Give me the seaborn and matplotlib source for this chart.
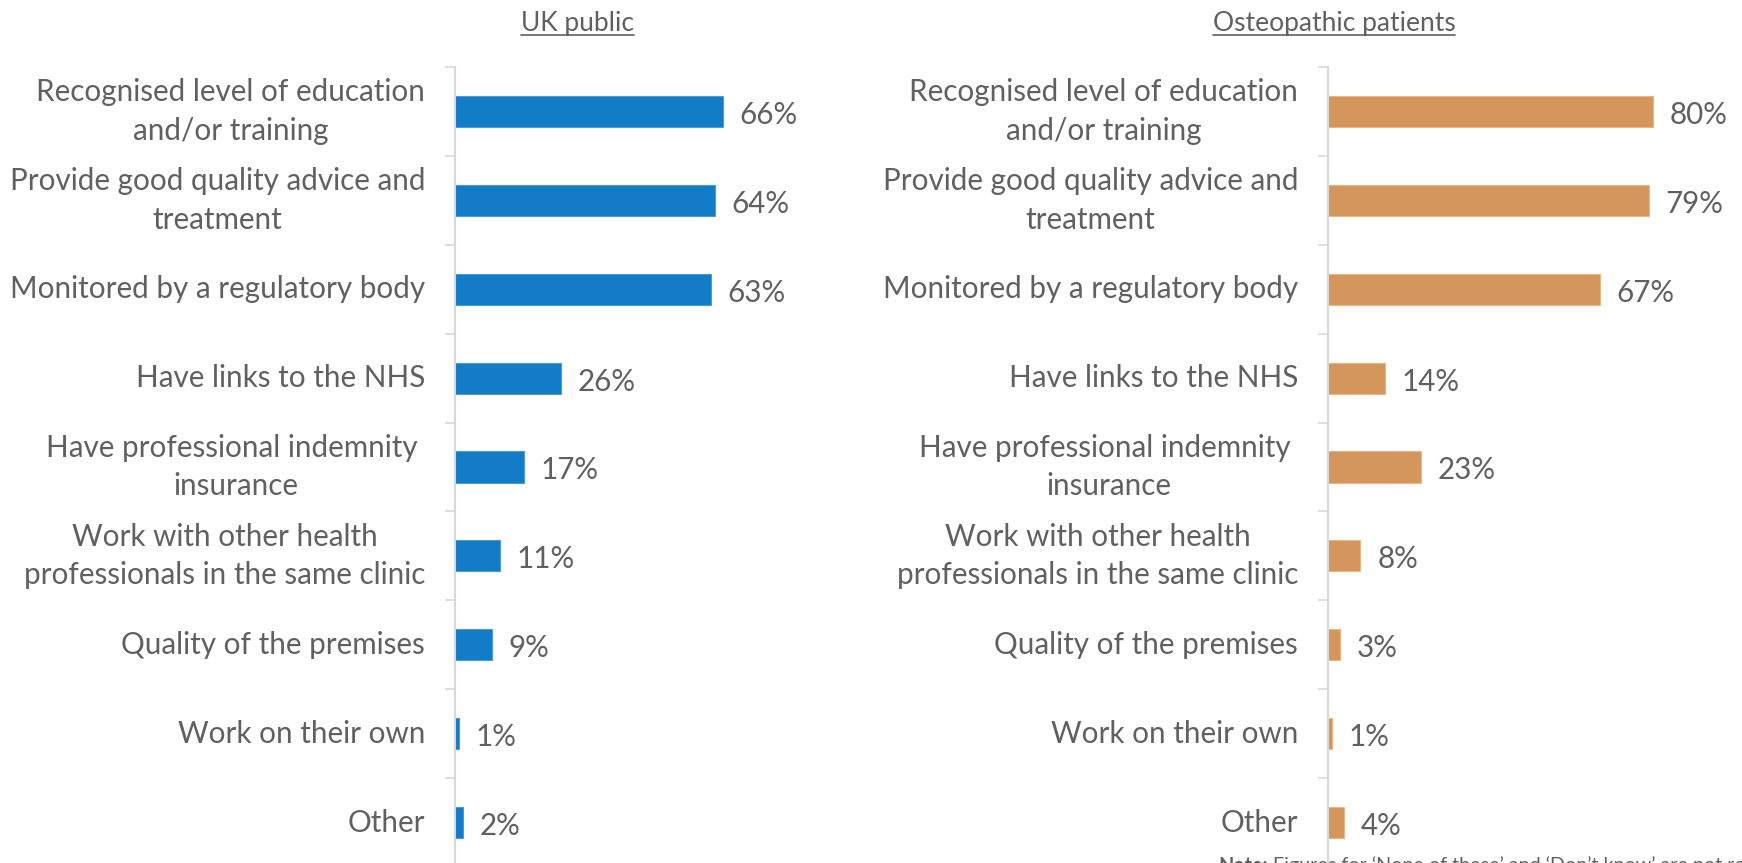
import matplotlib
matplotlib.use("Agg")
import matplotlib.pyplot as plt
import seaborn as sns
import pandas as pd
from matplotlib.lines import Line2D

# Survey data: share of respondents choosing each factor
categories = [
    "Recognised level of education\nand/or training",
    "Provide good quality advice and\ntreatment",
    "Monitored by a regulatory body",
    "Have links to the NHS",
    "Have professional indemnity \ninsurance",
    "Work with other health\nprofessionals in the same clinic",
    "Quality of the premises",
    "Work on their own",
    "Other",
]
uk_public = [66, 64, 63, 26, 17, 11, 9, 1, 2]
osteo_patients = [80, 79, 67, 14, 23, 8, 3, 1, 4]
panel_titles = ["UK public", "Osteopathic patients"]
note_label = "Note:"
note_text = " Figures for \u2018None of these\u2019 and \u2018Don\u2019t know\u2019 are not reported."

BLUE = "#127cc6"
ORANGE = "#d4965c"
TEXT = "#606060"
AXIS = "#d9d9d9"
LABEL_SIZE = 21.3

sns.set_theme(style="white")
plt.rcParams["font.family"] = ["Lato", "DejaVu Sans"]

W, H = 1742, 863
fig = plt.figure(figsize=(W / 100, H / 100), dpi=100)


def px_box(left, top, width, height):
    return [left / W, 1 - (top + height) / H, width / W, height / H]


panels = [
    (uk_public, BLUE, "#4a9ad6", 455, 577),
    (osteo_patients, ORANGE, "#e9b784", 1328, 1334),
]

for (values, color, edge, left_px, title_x), title in zip(panels, panel_titles):
    ax = fig.add_axes(px_box(left_px, 67, 406, 800))
    df = pd.DataFrame({"factor": categories, "pct": values})
    sns.barplot(data=df, x="pct", y="factor", orient="h", color=color,
                saturation=1, width=0.35, edgecolor=edge, linewidth=0.8,
                ax=ax)
    ax.set_xlim(0, 100)
    ax.set_ylim(len(categories) - 0.5, -0.5)
    ax.set_xlabel("")
    ax.set_ylabel("")
    ax.set_xticks([])
    for side in ("top", "right", "bottom"):
        ax.spines[side].set_visible(False)
    ax.spines["left"].set_color(AXIS)
    ax.spines["left"].set_linewidth(1.5)

    # Category boundaries carry the tick marks; labels sit at the centres
    ax.set_yticks([i - 0.5 for i in range(len(categories) + 1)], minor=True)
    ax.tick_params(axis="y", which="minor", length=7.2, width=1.2,
                   color=AXIS, left=True)
    ax.tick_params(axis="y", which="major", length=0, pad=21.5,
                   labelsize=LABEL_SIZE, labelcolor=TEXT)
    for lab in ax.get_yticklabels():
        lab.set_multialignment("center")
        lab.set_verticalalignment("center")
        lab.set_linespacing(1.45)

    for i, v in enumerate(values):
        ax.annotate(f"{v}%", xy=(v, i), xytext=(12, -2.5),
                    textcoords="offset points", ha="left", va="center",
                    fontsize=LABEL_SIZE, color=TEXT, annotation_clip=False)

    fig.text(title_x / W, 1 - 31 / H, title, ha="center", va="baseline",
             fontsize=19, color=TEXT)

# Underline the panel titles
fig.canvas.draw()
renderer = fig.canvas.get_renderer()
for t in list(fig.texts):
    bb = t.get_window_extent(renderer)
    y = 1 - 35 / H
    fig.add_artist(Line2D([bb.x0 / W, bb.x1 / W], [y, y], color=TEXT,
                          linewidth=1.2, transform=fig.transFigure))

# Footnote, partly running off the bottom edge
NOTE_TOP = 1 - 856 / H
n1 = fig.text(1218 / W, NOTE_TOP, note_label, ha="left", va="top",
              fontsize=14.2, fontweight="bold", color=TEXT)
fig.canvas.draw()
bb = n1.get_window_extent(renderer)
fig.text(bb.x1 / W, NOTE_TOP, note_text, ha="left", va="top",
         fontsize=14.2, color=TEXT)

fig.savefig("out.png", dpi=100)
